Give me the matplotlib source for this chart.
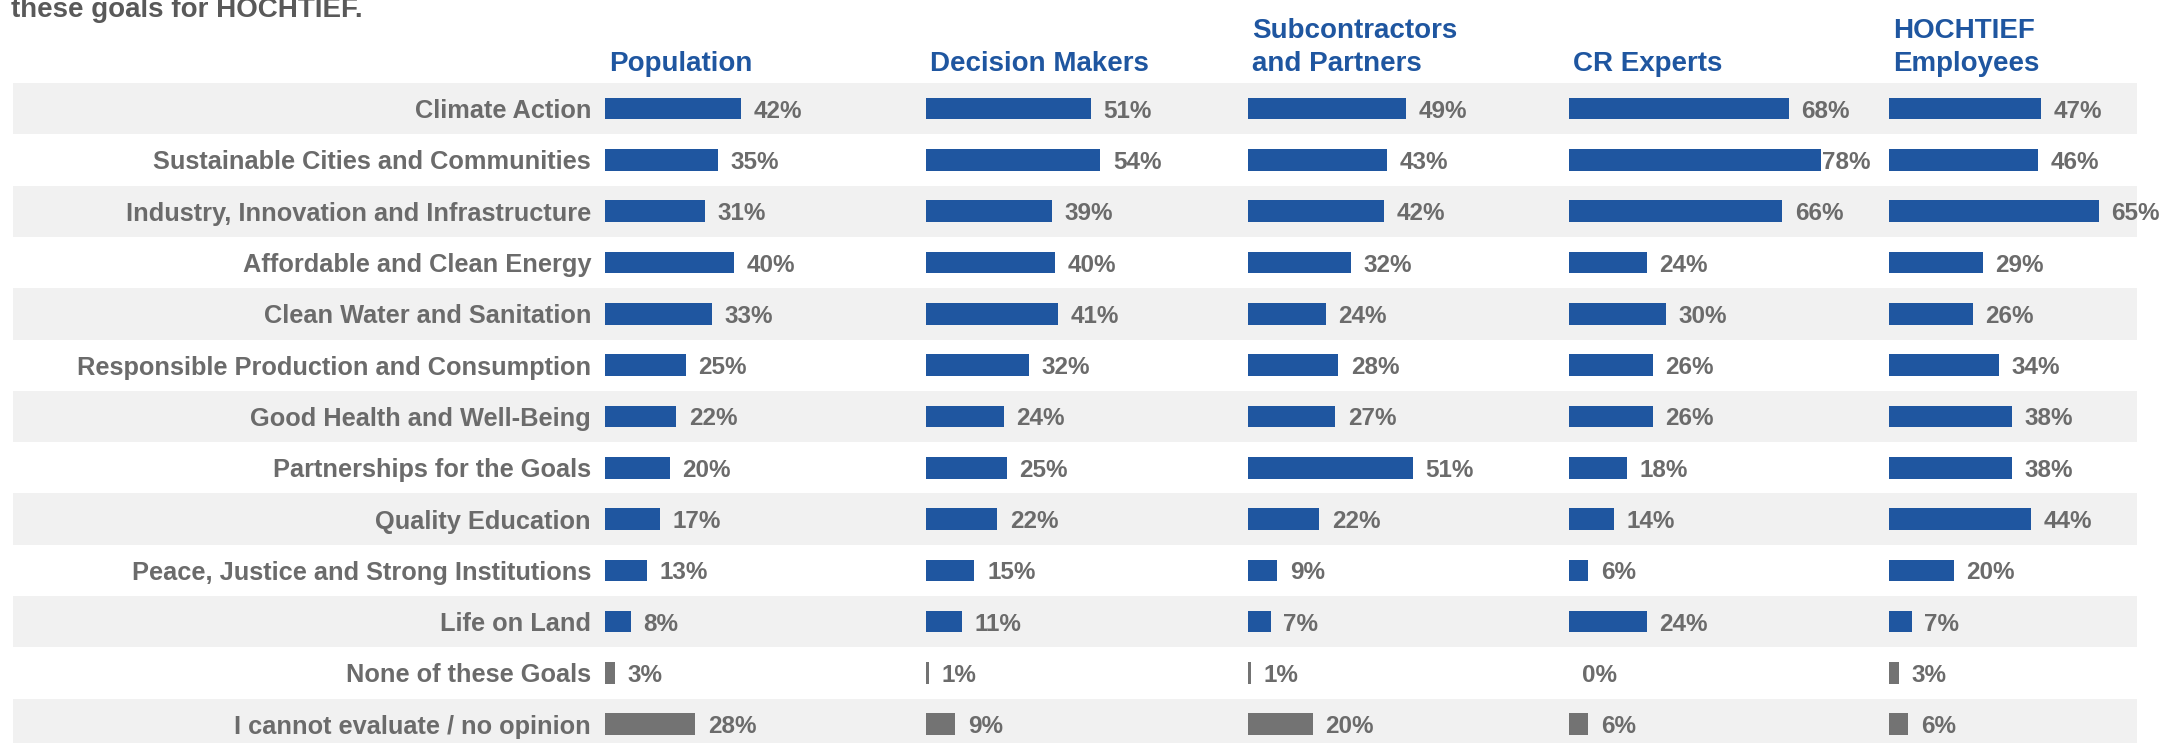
import matplotlib.pyplot as plt

plt.rcParams['font.family'] = ['Liberation Sans', 'DejaVu Sans']

categories = ['Climate Action', 'Sustainable Cities and Communities',
              'Industry, Innovation and Infrastructure', 'Affordable and Clean Energy',
              'Clean Water and Sanitation', 'Responsible Production and Consumption',
              'Good Health and Well-Being', 'Partnerships for the Goals',
              'Quality Education', 'Peace, Justice and Strong Institutions',
              'Life on Land', 'None of these Goals', 'I cannot evaluate / no opinion']

groups = ['Population', 'Decision Makers', 'Subcontractors\nand Partners',
          'CR Experts', 'HOCHTIEF\nEmployees']

population = [42, 35, 31, 40, 33, 25, 22, 20, 17, 13, 8, 3, 28]
decision_makers = [51, 54, 39, 40, 41, 32, 24, 25, 22, 15, 11, 1, 9]
subcontractors = [49, 43, 42, 32, 24, 28, 27, 51, 22, 9, 7, 1, 20]
cr_experts = [68, 78, 66, 24, 30, 26, 26, 18, 14, 6, 24, 0, 6]
employees = [47, 46, 65, 29, 26, 34, 38, 38, 44, 20, 7, 3, 6]

series = [population, decision_makers, subcontractors, cr_experts, employees]

BLUE = '#1f56a0'
GRAY_BAR = '#737373'
TEXT = '#6b6b6b'
BAND = '#f1f1f1'

W, H = 2172, 743
fig = plt.figure(figsize=(W / 100, H / 100), dpi=100)

n = len(categories)
top_px, bottom_px = 83, 83 + 51.3 * n
ax_bottom = 1 - bottom_px / H
ax_height = (bottom_px - top_px) / H

# background stripes
bg = fig.add_axes([13 / W, ax_bottom, (2137 - 13) / W, ax_height])
for i in range(0, n, 2):
    bg.axhspan(i - 0.5, i + 0.5, color=BAND, lw=0)
bg.set_ylim(n - 0.5, -0.5)
bg.set_xlim(0, 1)
bg.axis('off')

col_left = [605, 926, 1248, 1569, 1889]
col_w = 321
px_per_pct = 3.23
colors = [BLUE] * 11 + [GRAY_BAR] * 2

for k, vals in enumerate(series):
    ax = fig.add_axes([col_left[k] / W, ax_bottom, col_w / W, ax_height])
    ax.patch.set_alpha(0)
    ax.barh(range(n), vals, height=0.42, color=colors)
    ax.set_xlim(0, col_w / px_per_pct)
    ax.set_ylim(n - 0.5, -0.5)
    for s in ax.spines.values():
        s.set_visible(False)
    ax.set_xticks([])
    if k == 0:
        ax.set_yticks(range(n))
        ax.set_yticklabels(categories, fontsize=18.3, fontweight='bold', color=TEXT)
        ax.tick_params(axis='y', length=0, pad=10)
    else:
        ax.set_yticks([])
    for i, v in enumerate(vals):
        ax.text(min(v + 3.9, 78.4), i, f'{v}%', va='center_baseline', ha='left',
                fontsize=17.5, fontweight='bold', color=TEXT)
    fig.text((col_left[k] + 4) / W, 1 - 71 / H, groups[k], ha='left', va='baseline',
             fontsize=20, fontweight='bold', color=BLUE, linespacing=1.35)

fig.text(11 / W, 1 - 17 / H, 'these goals for HOCHTIEF.', ha='left', va='baseline',
         fontsize=20, fontweight='bold', color='#595959')

fig.savefig('out.png', dpi=100)
